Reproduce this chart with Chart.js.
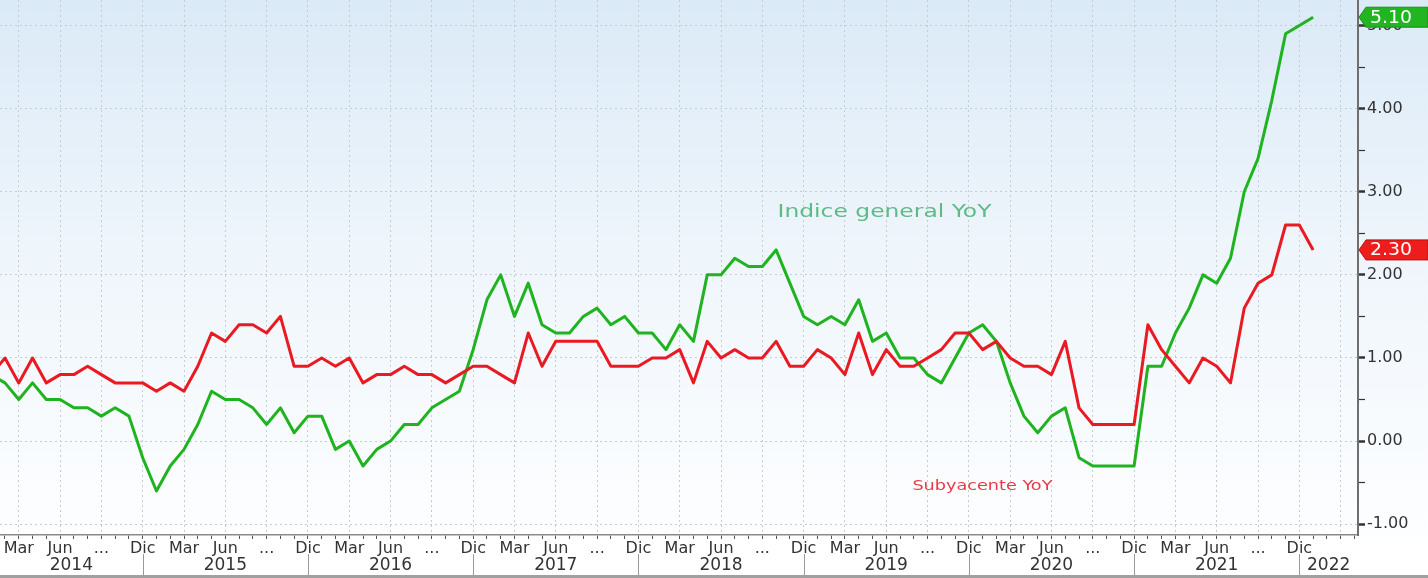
<!DOCTYPE html>
<html><head><meta charset="utf-8">
<script src="https://cdn.jsdelivr.net/npm/chart.js@4.4.1/dist/chart.umd.min.js"></script>
<style>html,body{margin:0;padding:0;background:#fff;overflow:hidden}#wrap{width:1428px;height:578px;position:relative}</style>
</head><body><div id="wrap"><canvas id="c" width="1428" height="578"></canvas></div>
<script>
// month index 0 = Ene 2014 ... 96 = Ene 2022
const firstYear = 2014;
const years = ['2014','2015','2016','2017','2018','2019','2020','2021','2022'];
const quarterMonths = [2, 5, 8, 11];
const quarterLabels = ['Mar', 'Jun', '...', 'Dic'];
const yTickValues = [-1, -0.5, 0, 0.5, 1, 1.5, 2, 2.5, 3, 3.5, 4, 4.5, 5];

const headlineName = 'Indice general YoY';
const headline = [
  0.8, 0.7, 0.5, 0.7, 0.5, 0.5, 0.4, 0.4, 0.3, 0.4, 0.3, -0.2,
  -0.6, -0.3, -0.1, 0.2, 0.6, 0.5, 0.5, 0.4, 0.2, 0.4, 0.1, 0.3,
  0.3, -0.1, 0.0, -0.3, -0.1, 0.0, 0.2, 0.2, 0.4, 0.5, 0.6, 1.1,
  1.7, 2.0, 1.5, 1.9, 1.4, 1.3, 1.3, 1.5, 1.6, 1.4, 1.5, 1.3,
  1.3, 1.1, 1.4, 1.2, 2.0, 2.0, 2.2, 2.1, 2.1, 2.3, 1.9, 1.5,
  1.4, 1.5, 1.4, 1.7, 1.2, 1.3, 1.0, 1.0, 0.8, 0.7, 1.0, 1.3,
  1.4, 1.2, 0.7, 0.3, 0.1, 0.3, 0.4, -0.2, -0.3, -0.3, -0.3, -0.3,
  0.9, 0.9, 1.3, 1.6, 2.0, 1.9, 2.2, 3.0, 3.4, 4.1, 4.9, 5.0,
  5.1
];
const coreName = 'Subyacente YoY';
const core = [
  0.8, 1.0, 0.7, 1.0, 0.7, 0.8, 0.8, 0.9, 0.8, 0.7, 0.7, 0.7,
  0.6, 0.7, 0.6, 0.9, 1.3, 1.2, 1.4, 1.4, 1.3, 1.5, 0.9, 0.9,
  1.0, 0.9, 1.0, 0.7, 0.8, 0.8, 0.9, 0.8, 0.8, 0.7, 0.8, 0.9,
  0.9, 0.8, 0.7, 1.3, 0.9, 1.2, 1.2, 1.2, 1.2, 0.9, 0.9, 0.9,
  1.0, 1.0, 1.1, 0.7, 1.2, 1.0, 1.1, 1.0, 1.0, 1.2, 0.9, 0.9,
  1.1, 1.0, 0.8, 1.3, 0.8, 1.1, 0.9, 0.9, 1.0, 1.1, 1.3, 1.3,
  1.1, 1.2, 1.0, 0.9, 0.9, 0.8, 1.2, 0.4, 0.2, 0.2, 0.2, 0.2,
  1.4, 1.1, 0.9, 0.7, 1.0, 0.9, 0.7, 1.6, 1.9, 2.0, 2.6, 2.6,
  2.3
];

const GREEN = '#1fb31f', RED = '#ea1a22';
const FONT = "'DejaVu Sans', Verdana, sans-serif";
const lastIndex = headline.length - 1;

const bgPlugin = {
  id: 'bg',
  beforeDraw(chart) {
    const { ctx, chartArea } = chart;
    ctx.save();
    ctx.fillStyle = '#ffffff';
    ctx.fillRect(0, 0, chart.width, chart.height);
    const g = ctx.createLinearGradient(0, 0, 0, chartArea.bottom);
    g.addColorStop(0, '#dbeaf7');
    g.addColorStop(0.45, '#eef5fb');
    g.addColorStop(1, '#fdfeff');
    ctx.fillStyle = g;
    ctx.fillRect(0, 0, chart.width, chartArea.bottom);
    ctx.restore();
  }
};

function fitText(ctx, text, x, y, width, font, color) {
  ctx.save();
  ctx.font = font;
  ctx.fillStyle = color;
  ctx.textBaseline = 'middle';
  ctx.textAlign = 'left';
  const w = ctx.measureText(text).width;
  ctx.translate(x, y);
  ctx.scale(width / w, 1);
  ctx.fillText(text, 0, 0);
  ctx.restore();
}

function valueTag(ctx, xTip, y, text, fill, edge, right) {
  const h = 20, notch = 7;
  ctx.save();
  ctx.beginPath();
  ctx.moveTo(xTip, y);
  ctx.lineTo(xTip + notch, y - h / 2);
  ctx.lineTo(right, y - h / 2);
  ctx.lineTo(right, y + h / 2);
  ctx.lineTo(xTip + notch, y + h / 2);
  ctx.closePath();
  ctx.fillStyle = fill;
  ctx.fill();
  ctx.strokeStyle = edge;
  ctx.lineWidth = 1;
  ctx.stroke();
  ctx.restore();
  fitText(ctx, text, xTip + notch + 4, y + 1, 42, '17px ' + FONT, '#ffffff');
}

const overlayPlugin = {
  id: 'overlay',
  afterDraw(chart) {
    const { ctx, chartArea } = chart;
    const xs = chart.scales.x, ys = chart.scales.y;
    ctx.save();
    years.forEach((yr, k) => {
      const decPrev = 12 * k - 1, decThis = 12 * k + 11;
      const x0 = xs.getPixelForValue(decPrev), x1 = xs.getPixelForValue(decThis);
      if (k > 0 && x0 > chartArea.left && x0 < chartArea.right) {
        ctx.strokeStyle = '#9a9a9a';
        ctx.lineWidth = 1;
        ctx.beginPath();
        ctx.moveTo(Math.round(x0) + 0.5, 554);
        ctx.lineTo(Math.round(x0) + 0.5, 578);
        ctx.stroke();
      }
      const a = Math.max(x0, chartArea.left), b = Math.min(x1, chartArea.right);
      ctx.font = '17px ' + FONT;
      ctx.fillStyle = '#333333';
      ctx.textAlign = 'center';
      ctx.textBaseline = 'middle';
      ctx.fillText(yr, (a + b) / 2, 566);
    });
    ctx.fillStyle = '#a0a0a0';
    ctx.fillRect(0, 575, chart.width, 3);
    ctx.restore();

    fitText(ctx, headlineName, xs.getPixelForValue(57.1), ys.getPixelForValue(2.75), 214, '17px ' + FONT, '#5dbb86');
    fitText(ctx, coreName, xs.getPixelForValue(66.9), ys.getPixelForValue(-0.55), 140, '14px ' + FONT, '#e63c46');

    valueTag(ctx, chartArea.right + 1, ys.getPixelForValue(headline[lastIndex]), headline[lastIndex].toFixed(2), '#22b522', '#178f17', chart.width);
    valueTag(ctx, chartArea.right + 1, ys.getPixelForValue(core[lastIndex]), core[lastIndex].toFixed(2), '#ee1c1c', '#b81010', chart.width);
  }
};

const toPoints = arr => arr.map((v, i) => ({ x: i, y: v }));

new Chart(document.getElementById('c'), {
  type: 'line',
  data: {
    datasets: [
      { label: coreName, data: toPoints(core), borderColor: RED, borderWidth: 3, pointRadius: 0, tension: 0, borderJoinStyle: 'round' },
      { label: headlineName, data: toPoints(headline), borderColor: GREEN, borderWidth: 3, pointRadius: 0, tension: 0, borderJoinStyle: 'round' }
    ]
  },
  options: {
    responsive: false,
    devicePixelRatio: 1,
    animation: false,
    layout: { padding: 0 },
    plugins: { legend: { display: false }, tooltip: { enabled: false } },
    scales: {
      x: {
        type: 'linear',
        position: 'bottom',
        min: 0.637,
        max: 99.26,
        afterBuildTicks(scale) {
          const t = [];
          for (let i = 1; i <= 99; i++) t.push({ value: i });
          scale.ticks = t;
        },
        afterFit(scale) { scale.height = 43; scale.paddingLeft = 0; scale.paddingRight = 0; },
        ticks: {
          autoSkip: false, maxRotation: 0, minRotation: 0, padding: 0,
          color: '#333333',
          font: { family: FONT, size: 16 },
          callback(value) {
            if (value > lastIndex) return '';
            const m = ((value % 12) + 12) % 12;
            const q = quarterMonths.indexOf(m);
            return q >= 0 ? quarterLabels[q] : '';
          }
        },
        grid: {
          drawTicks: true,
          tickLength: 4,
          tickWidth: 1,
          tickColor: '#555555',
          lineWidth: 1,
          color(ctx) {
            const v = ctx.tick ? ctx.tick.value : 0;
            const m = ((v % 12) + 12) % 12;
            return quarterMonths.includes(m) ? '#c4ccd4' : 'rgba(0,0,0,0)';
          }
        },
        border: { display: true, color: '#8a8a8a', width: 1.5, dash: [2, 3] }
      },
      y: {
        type: 'linear',
        position: 'right',
        min: -1.13,
        max: 5.307,
        afterBuildTicks(scale) { scale.ticks = yTickValues.map(v => ({ value: v })); },
        afterFit(scale) { scale.width = 70; scale.paddingTop = 0; scale.paddingBottom = 0; },
        ticks: {
          padding: 2,
          color: '#333333',
          font: { family: FONT, size: 16 },
          callback(value) { return Number.isInteger(value) ? value.toFixed(2) : ''; }
        },
        grid: {
          drawTicks: true,
          tickLength: 7,
          tickColor: '#333333',
          tickWidth(ctx) { return ctx.tick && Number.isInteger(ctx.tick.value) ? 2.5 : 1.2; },
          lineWidth: 1,
          color(ctx) { return ctx.tick && Number.isInteger(ctx.tick.value) ? '#c4ccd4' : 'rgba(0,0,0,0)'; }
        },
        border: { display: true, color: '#6f6f6f', width: 2, dash: [2, 3] }
      }
    }
  },
  plugins: [bgPlugin, overlayPlugin]
});
</script>
</body></html>
